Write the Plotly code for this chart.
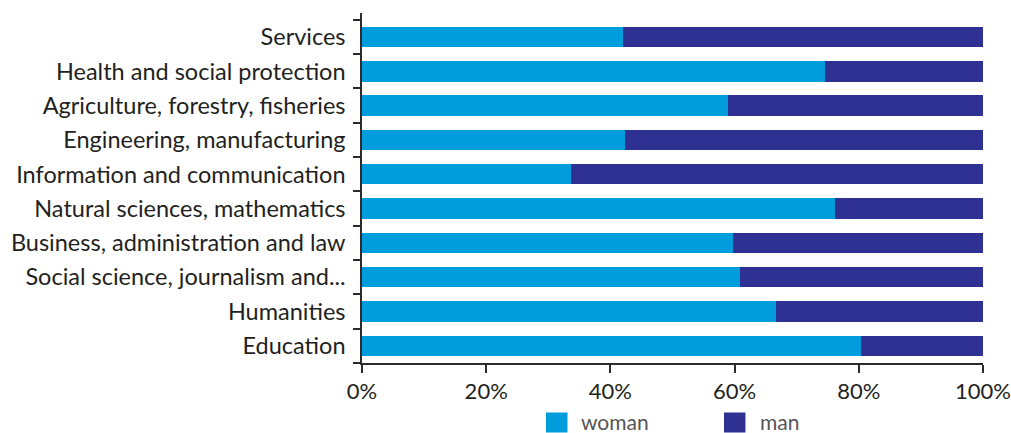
import plotly.graph_objects as go

# Fields of study, listed bottom to top
fields = [
    "Education",
    "Humanities",
    "Social science, journalism and...",
    "Business, administration and law",
    "Natural sciences, mathematics",
    "Information and communication",
    "Engineering, manufacturing",
    "Agriculture, forestry, fisheries",
    "Health and social protection",
    "Services",
]

# Share of graduates (%) by sex
woman = [80.4, 66.6, 60.9, 59.8, 76.1, 33.7, 42.4, 59.0, 74.6, 42.1]
man = [19.6, 33.4, 39.1, 40.2, 23.9, 66.3, 57.6, 41.0, 25.4, 57.9]

x_ticks = [0, 20, 40, 60, 80, 100]
x_tick_text = ["0%", "20%", "40%", "60%", "80%", "100%"]

WOMAN_COLOR = "#009DDC"
MAN_COLOR = "#2E3192"
AXIS_COLOR = "#2b2b2b"
TEXT_COLOR = "#231f20"
FONT = "Lato, 'Open Sans', sans-serif"

fig = go.Figure()
fig.add_trace(go.Bar(y=fields, x=woman, orientation="h", name="woman",
                     marker=dict(color=WOMAN_COLOR, line=dict(width=0))))
fig.add_trace(go.Bar(y=fields, x=man, orientation="h", name="man",
                     marker=dict(color=MAN_COLOR, line=dict(width=0))))

fig.update_layout(
    width=1011, height=433,
    margin=dict(l=362, r=28, t=13, b=70, pad=0, autoexpand=False),
    barmode="stack",
    bargap=0.405,
    showlegend=False,
    plot_bgcolor="white",
    paper_bgcolor="white",
    font=dict(family=FONT, color=TEXT_COLOR),
    xaxis=dict(
        range=[0, 100], tickvals=x_ticks, ticktext=x_tick_text,
        showgrid=False, zeroline=False, automargin=False,
        showline=True, linecolor=AXIS_COLOR, linewidth=1.5,
        ticks="outside", ticklen=8, tickwidth=1.5, tickcolor=AXIS_COLOR,
        tickfont=dict(size=22, color=TEXT_COLOR),
        fixedrange=True,
    ),
    # upper half of the crossing x ticks
    xaxis2=dict(
        overlaying="x", anchor="y", side="bottom", automargin=False,
        range=[0, 100], tickvals=x_ticks,
        showticklabels=False, showgrid=False, zeroline=False, showline=False,
        ticks="inside", ticklen=5, tickwidth=1.5, tickcolor=AXIS_COLOR,
    ),
    yaxis=dict(
        type="category", categoryorder="array", categoryarray=fields,
        range=[-0.5, 9.7], automargin=False,
        showgrid=False, zeroline=False,
        showline=True, linecolor=AXIS_COLOR, linewidth=1.5,
        ticks="outside", tickson="boundaries", ticklen=7, tickwidth=1.5,
        tickcolor=AXIS_COLOR,
        tickfont=dict(size=23.5, color=TEXT_COLOR),
        ticklabelstandoff=10,
        fixedrange=True,
    ),
)

# Legend drawn below the axis
legend_items = [("woman", WOMAN_COLOR, 0.2963, 0.3494), ("man", MAN_COLOR, 0.5829, 0.6369)]
for label, color, sx, tx in legend_items:
    fig.add_shape(type="rect", xref="paper", yref="paper",
                  x0=sx, x1=sx + 0.0346, y0=-0.1986, y1=-0.1414,
                  fillcolor=color, line=dict(width=0))
    fig.add_annotation(text=label, xref="paper", yref="paper",
                       x=tx, y=-0.166, xanchor="left", yanchor="middle",
                       showarrow=False,
                       font=dict(family=FONT, size=21, color="#555555"))

fig.write_html("out.html")
